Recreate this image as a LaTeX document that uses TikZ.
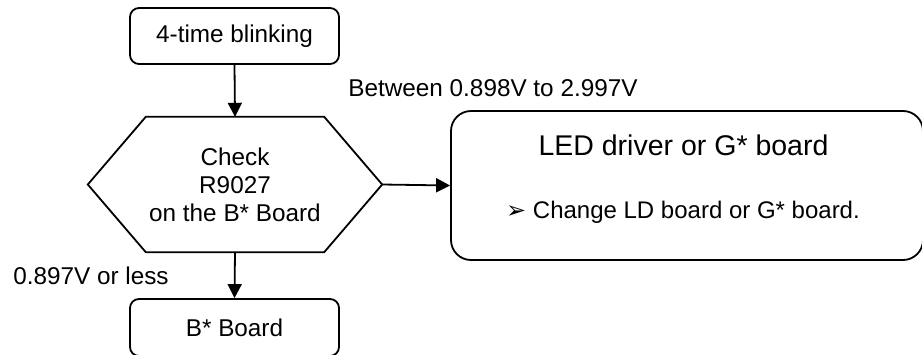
\documentclass[tikz,border=0pt]{standalone}
\usepackage{fontspec}
\setmainfont{Liberation Sans}
\newfontfamily\symfont{DejaVu Sans}
\usetikzlibrary{arrows.meta}
\begin{document}
\begin{tikzpicture}[x=1pt,y=-1pt,
  every node/.style={font=\fontsize{24.3}{28}\selectfont, inner sep=0pt},
  flowbox/.style={draw, line width=1.8pt, rounded corners=9pt},
  conn/.style={line width=1.8pt, -{Triangle[length=14pt,width=14pt]}},
  lbl/.style={anchor=center}]
\useasboundingbox (0,0) rectangle (922,354);
\node[flowbox, minimum width=209pt, minimum height=56pt] (start) at (234.5,36) {4-time blinking};
\node[minimum width=294pt, minimum height=135pt, align=center] (chk) at (235,184.5) {Check\\R9027\\on the B* Board};
\draw[line width=1.8pt, line join=miter] (chk.west) -- ([xshift=58pt]chk.north west) -- ([xshift=-58pt]chk.north east) -- (chk.east) -- ([xshift=-58pt]chk.south east) -- ([xshift=58pt]chk.south west) -- cycle;
\node[flowbox, minimum width=209pt, minimum height=57pt] (bboard) at (234.5,327.5) {B* Board};
\node[flowbox, rounded corners=20pt, minimum width=472pt, minimum height=149pt] (led) at (687,185.5) {};
\node (ledtitle) at (683.5,145) {\fontsize{28.5}{32}\selectfont LED driver or G* board};
\node (ledtext) at (683,212) {\fontsize{24}{28}\selectfont{\symfont\fontsize{24}{28}\selectfont ➢}\ Change LD board or G* board.};
\draw[conn] (start.south) -- (chk.north);
\draw[conn] (chk.east) -- (led.west);
\draw[conn] (chk.south) -- (bboard.north);
\node[lbl] (lblhi) at (493,88) {Between 0.898V to 2.997V};
\node[lbl] (lbllo) at (91,276) {0.897V or less};
\end{tikzpicture}
\end{document}
